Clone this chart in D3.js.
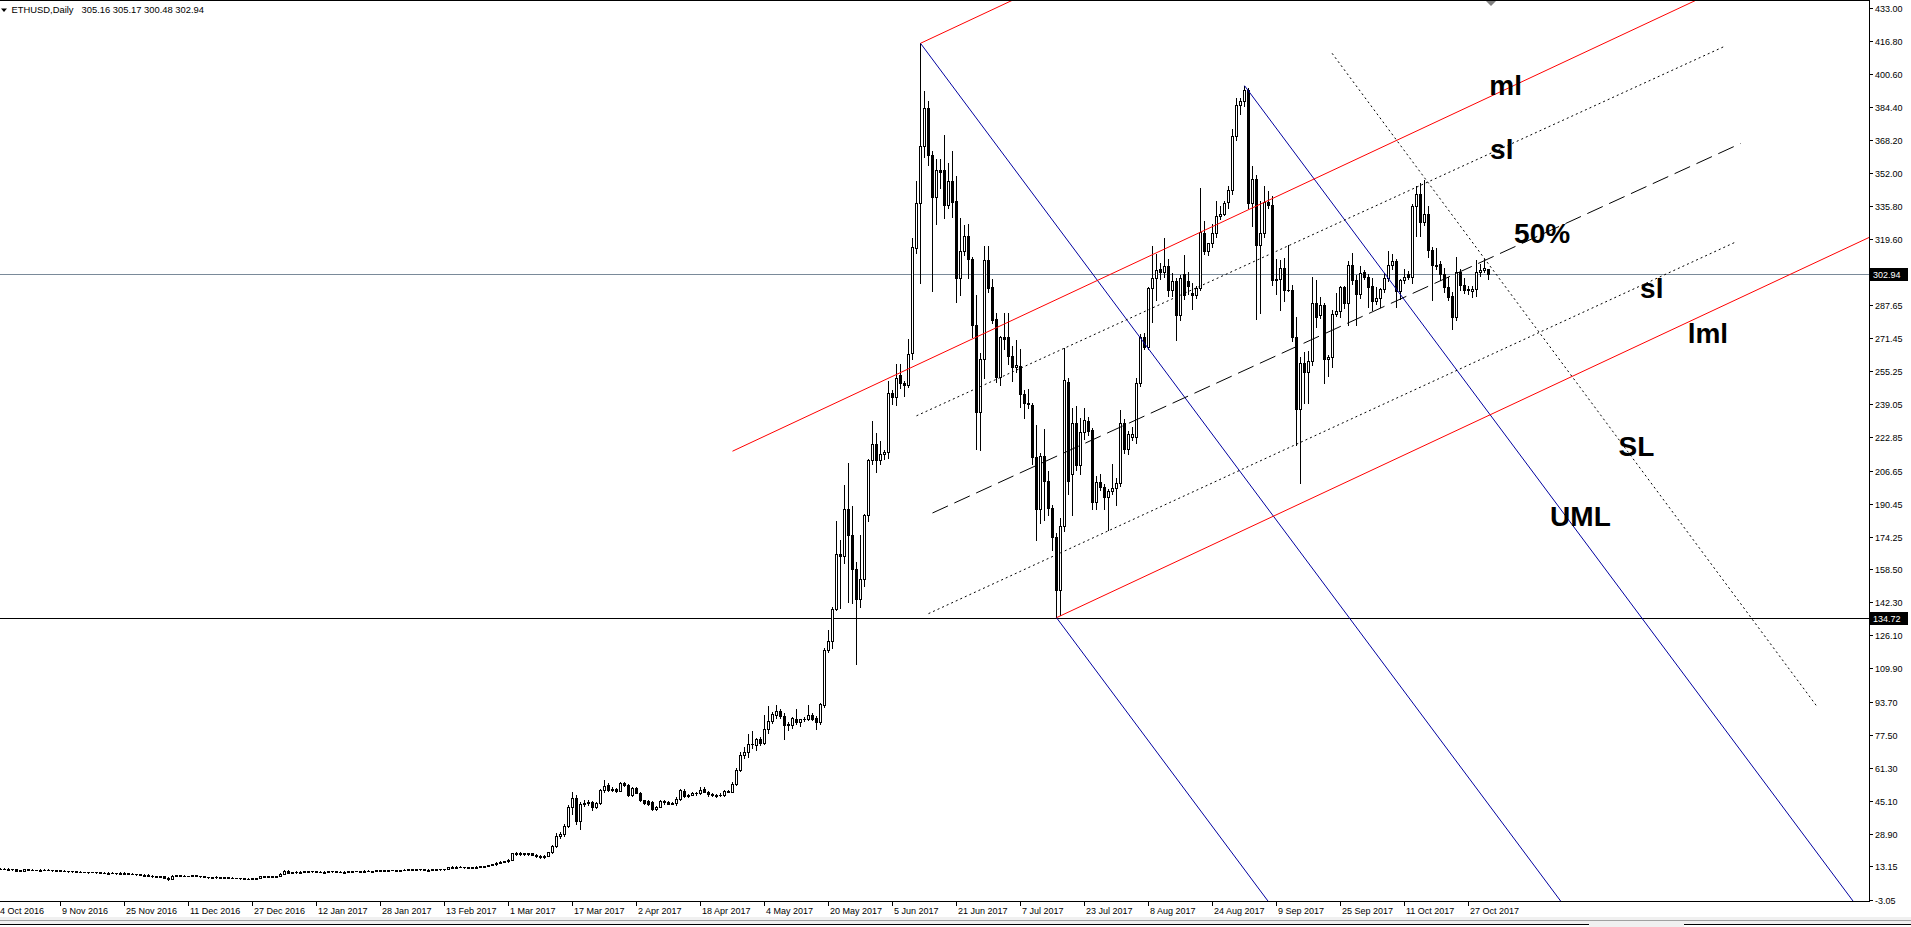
<!DOCTYPE html>
<html><head><meta charset="utf-8">
<script src="https://cdn.jsdelivr.net/npm/d3@7"></script>
<style>
html,body{margin:0;padding:0;background:#fff;overflow:hidden;}
svg{display:block;}
text{font-family:"Liberation Sans",Arial,sans-serif;}
</style></head><body>
<svg id="c" width="1911" height="927"></svg>
<script>
// ---------- DATA ----------
const symbol = "ETHUSD,Daily";
const dateLabels = ["4 Oct 2016","9 Nov 2016","25 Nov 2016","11 Dec 2016","27 Dec 2016","12 Jan 2017","28 Jan 2017","13 Feb 2017","1 Mar 2017","17 Mar 2017","2 Apr 2017","18 Apr 2017","4 May 2017","20 May 2017","5 Jun 2017","21 Jun 2017","7 Jul 2017","23 Jul 2017","8 Aug 2017","24 Aug 2017","9 Sep 2017","25 Sep 2017","11 Oct 2017","27 Oct 2017"];
const dateBars = [0,15,31,47,63,79,95,111,127,143,159,175,191,207,223,239,255,271,287,303,319,335,351,367];
const priceTicks = ["433.00","416.80","400.60","384.40","368.20","352.00","335.80","319.60","287.65","271.45","255.25","239.05","222.85","206.65","190.45","174.25","158.50","142.30","126.10","109.90","93.70","77.50","61.30","45.10","28.90","13.15","-3.05"];
const priceLevels = [302.94, 134.72];
// daily candles [open, high, low, close], one per bar
const candles = [
[12.1,12.4,11.8,12.0],[12.0,12.2,11.7,11.9],[11.9,12.3,11.8,12.0],[12.0,12.1,11.6,11.8],[11.8,11.9,10.8,11.0],[11.0,11.5,10.9,11.2],[11.1,11.9,11.0,11.8],[11.8,11.9,11.4,11.6],[11.6,11.7,11.2,11.4],[11.4,11.6,11.2,11.4],
[11.4,11.8,11.3,11.6],[11.6,11.8,11.4,11.6],[11.6,11.7,11.3,11.5],[11.5,11.6,11.1,11.3],[11.3,11.5,11.1,11.4],[11.4,11.5,11.0,11.1],[11.1,11.2,10.7,10.9],[10.9,11.1,10.6,10.8],[10.8,11.0,10.5,10.7],[10.7,10.8,10.3,10.5],
[10.5,10.7,10.3,10.5],[10.5,10.6,10.2,10.4],[10.4,10.5,10.1,10.3],[10.3,10.5,10.2,10.3],[10.3,10.4,10.0,10.2],[10.2,10.3,9.9,10.1],[10.1,10.2,9.8,10.0],[10.0,10.3,9.9,10.1],[10.1,10.2,9.7,9.9],[9.9,10.0,9.6,9.8],
[9.8,10.2,9.7,9.9],[9.9,10.3,9.8,10.0],[10.0,10.1,9.5,9.6],[9.6,9.7,9.3,9.4],[9.4,9.6,9.1,9.3],[9.3,9.4,8.9,9.0],[9.0,9.3,8.8,9.1],[9.1,9.2,8.5,8.6],[8.6,8.8,8.1,8.2],[8.2,8.3,7.8,7.9],
[7.9,8.4,7.8,8.3],[8.3,8.4,7.5,7.6],[7.6,7.8,6.6,7.1],[7.1,8.8,7.0,8.6],[8.6,8.9,8.4,8.7],[8.7,8.8,8.4,8.6],[8.6,8.7,8.3,8.5],[8.5,8.6,8.2,8.4],[8.4,8.8,8.3,8.7],[8.7,8.8,8.2,8.3],
[8.3,8.5,8.1,8.2],[8.2,8.3,7.8,7.9],[7.9,8.1,7.7,7.8],[7.8,8.0,7.6,7.9],[7.9,8.2,7.7,7.8],[7.8,7.9,7.5,7.7],[7.7,7.9,7.5,7.8],[7.8,8.0,7.5,7.6],[7.6,7.8,7.4,7.6],[7.6,7.7,7.3,7.4],
[7.4,7.6,7.2,7.4],[7.4,7.5,7.0,7.2],[7.2,7.4,7.0,7.1],[7.1,7.5,7.0,7.4],[7.4,7.6,7.2,7.5],[7.5,8.4,7.4,8.2],[8.2,8.4,8.0,8.1],[8.1,8.3,7.9,8.2],[8.2,8.4,8.0,8.1],[8.1,8.4,8.0,8.3],
[8.3,9.8,8.2,9.6],[9.6,11.3,9.5,10.9],[10.9,11.2,9.7,10.1],[10.1,10.6,9.9,10.4],[10.4,10.7,10.1,10.2],[10.2,10.8,10.1,10.6],[10.6,10.9,10.4,10.7],[10.7,11.0,10.5,10.8],[10.8,11.1,10.6,10.7],[10.7,10.9,10.4,10.6],
[10.6,10.8,10.3,10.5],[10.5,10.7,10.2,10.6],[10.6,10.9,10.4,10.8],[10.8,11.0,10.6,10.7],[10.7,10.9,10.5,10.6],[10.6,10.8,10.4,10.5],[10.5,10.7,10.3,10.6],[10.6,10.8,10.4,10.7],[10.7,11.0,10.6,10.9],[10.9,11.1,10.7,10.8],
[10.8,11.0,10.6,10.9],[10.9,11.2,10.8,11.0],[11.0,11.2,10.8,10.9],[10.9,11.1,10.7,11.0],[11.0,11.3,10.9,11.2],[11.2,11.4,11.0,11.1],[11.1,11.3,10.9,11.2],[11.2,11.5,11.1,11.4],[11.4,11.6,11.2,11.3],[11.3,11.5,11.1,11.4],
[11.4,11.6,11.2,11.5],[11.5,11.7,11.3,11.4],[11.4,11.8,11.3,11.7],[11.7,11.9,11.5,11.6],[11.6,12.0,11.5,11.9],[11.9,12.1,11.6,11.7],[11.7,11.9,11.4,11.5],[11.5,11.7,11.3,11.6],[11.6,11.8,11.4,11.7],[11.7,12.0,11.6,11.9],
[11.9,12.0,11.6,11.8],[11.8,12.0,11.6,11.8],[11.8,13.0,11.7,12.8],[12.8,13.1,12.6,12.9],[12.9,13.2,12.7,13.0],[13.0,13.1,12.6,12.8],[12.8,13.0,12.5,12.7],[12.7,12.9,12.5,12.8],[12.8,13.0,12.6,12.9],[12.9,13.1,12.7,13.0],
[13.0,13.3,12.8,13.1],[13.1,13.5,13.0,13.4],[13.4,13.8,13.3,13.7],[13.7,14.3,13.6,14.2],[14.2,15.2,14.0,15.0],[15.0,15.6,14.8,15.4],[15.4,16.0,15.1,15.8],[15.8,16.6,15.5,16.3],[16.3,19.9,16.1,19.6],[19.6,20.4,18.9,19.2],
[19.2,20.0,18.8,19.6],[19.6,19.9,18.7,19.0],[19.0,19.8,18.8,19.5],[19.5,19.7,18.6,18.9],[18.9,19.1,17.9,18.2],[18.2,18.5,17.2,17.6],[17.6,18.7,17.4,18.4],[18.4,20.4,18.2,20.1],[20.1,23.4,19.8,22.9],[22.9,29.3,22.5,28.2],
[28.2,29.9,27.2,28.9],[29.0,33.8,28.1,33.0],[33.0,43.0,32.5,42.1],[42.1,49.5,38.8,46.4],[46.6,48.0,33.9,35.5],[35.5,44.5,31.4,43.8],[43.8,45.4,42.6,44.2],[44.2,45.6,43.1,44.6],[44.6,45.2,40.5,42.2],[42.2,44.5,41.8,44.0],
[44.0,51.2,43.5,50.4],[50.4,55.4,49.7,52.6],[52.9,53.7,50.0,50.7],[50.7,51.8,50.0,51.2],[51.2,51.7,49.6,50.1],[50.1,54.3,49.8,53.7],[53.7,54.6,52.6,52.9],[52.9,53.3,47.4,47.9],[47.9,51.9,47.6,51.7],[51.7,52.0,48.8,49.1],
[49.1,49.6,45.0,45.4],[45.4,45.8,43.8,44.1],[45.1,45.6,43.2,43.6],[44.6,45.0,40.8,41.3],[41.3,42.8,40.5,42.4],[42.4,45.4,42.0,45.1],[45.1,45.6,43.8,44.6],[44.6,44.9,43.4,43.8],[43.8,44.5,43.5,44.1],[44.1,47.0,43.0,46.3],
[46.3,51.0,45.8,50.4],[50.1,51.2,47.0,47.6],[47.6,48.6,47.3,48.1],[48.1,49.4,47.8,49.0],[49.0,49.6,48.2,48.8],[48.8,51.8,48.5,50.4],[51.2,52.0,49.3,49.6],[49.6,50.1,47.5,48.4],[48.4,49.0,47.6,47.9],[47.9,48.5,47.3,48.1],
[48.1,48.8,47.5,47.8],[47.8,50.3,47.5,50.0],[50.0,50.5,49.4,49.7],[49.7,54.5,49.3,53.6],[53.6,61.0,53.0,60.3],[60.3,69.0,59.8,67.8],[67.8,71.5,66.0,68.9],[68.9,77.7,66.5,73.2],[73.2,79.3,71.0,72.8],[72.7,76.0,70.0,75.2],
[75.2,76.5,72.5,73.6],[73.6,87.1,72.8,80.2],[80.2,91.4,78.5,84.3],[84.3,88.5,83.0,87.6],[87.1,92.0,85.8,89.3],[89.3,90.1,85.5,86.8],[86.8,88.0,75.5,82.2],[82.2,83.5,80.0,82.7],[82.2,86.0,81.0,85.5],[85.1,90.1,82.5,83.5],
[83.5,85.3,82.0,85.1],[85.1,86.0,84.0,85.1],[85.1,92.0,84.5,87.1],[87.1,88.0,84.8,85.1],[85.5,86.5,80.5,83.5],[83.5,93.0,82.5,92.6],[91.8,120.0,91.0,119.1],[119.1,128.5,118.0,123.2],[123.2,139.8,119.9,139.2],[138.9,181.9,138.5,165.9],
[165.9,172.8,139.4,164.9],[164.9,199.6,161.6,187.7],[187.7,210.4,142.2,175.3],[175.3,189.4,141.7,158.3],[158.3,162.0,112.1,143.9],[143.9,175.0,140.0,153.8],[153.8,185.5,150.0,184.7],[184.7,212.5,181.9,211.7],[211.7,230.7,210.0,219.5],[219.5,225.0,205.9,211.7],
[211.7,221.3,210.0,214.5],[214.5,216.5,212.5,215.5],[215.5,250.6,213.0,244.6],[244.6,246.0,239.0,242.7],[242.7,258.9,238.7,251.8],[253.4,258.9,247.0,249.3],[249.3,250.5,243.0,248.3],[248.3,270.8,247.5,263.8],[263.9,320.3,261.0,315.8],[315.3,348.1,313.0,337.6],
[337.6,415.5,298.4,365.4],[365.4,392.0,360.0,384.1],[384.1,387.4,356.0,361.0],[361.0,363.0,294.3,340.6],[340.6,358.8,327.4,353.4],[353.4,358.8,345.0,352.8],[353.4,370.9,330.0,336.5],[336.5,357.2,335.0,348.1],[348.1,363.0,330.7,337.8],[338.5,350.5,288.8,300.9],
[300.9,329.9,292.6,314.2],[314.2,326.9,312.0,321.3],[321.3,327.4,300.9,310.0],[310.0,311.0,272.0,277.7],[277.7,292.6,217.0,235.2],[235.2,264.0,216.5,261.2],[261.2,316.3,252.1,309.7],[309.7,316.3,294.0,296.0],[296.4,300.1,279.0,280.2],[280.5,283.5,250.0,252.4],
[252.4,272.5,248.5,271.9],[271.9,283.5,266.0,271.0],[272.0,283.9,258.7,262.4],[262.4,267.3,250.5,257.4],[257.4,270.6,255.0,258.0],[257.9,266.0,237.5,244.2],[244.2,246.0,232.2,239.7],[239.7,246.3,237.2,239.2],[238.9,239.7,210.0,213.2],[213.2,228.9,172.7,187.9],
[187.9,215.0,181.0,213.7],[213.7,226.9,182.6,201.6],[201.6,206.6,185.0,188.4],[188.4,190.0,167.7,174.3],[174.3,176.0,134.72,148.2],[148.2,183.4,136.0,179.6],[179.6,266.7,177.0,250.8],[250.1,252.0,195.0,201.6],[204.9,237.2,185.1,229.8],[229.8,238.4,207.0,209.4],
[209.4,232.2,205.0,225.3],[225.3,237.2,222.0,231.4],[230.9,233.0,224.0,226.0],[226.5,227.3,188.0,191.2],[191.2,204.1,188.0,200.8],[200.8,204.9,197.0,198.8],[198.8,200.0,187.6,193.9],[193.9,197.5,177.6,196.7],[196.7,209.9,195.0,198.3],[198.3,203.0,189.6,200.5],
[200.5,236.0,199.0,229.8],[229.8,232.0,215.0,217.4],[217.4,226.0,214.9,224.3],[223.1,228.1,221.5,224.3],[223.1,252.0,220.3,249.6],[249.6,273.3,248.0,271.9],[271.9,273.9,266.0,267.0],[267.0,296.5,266.2,296.0],[296.0,316.6,279.4,300.9],[300.9,312.5,290.2,304.7],
[305.0,308.0,300.5,303.5],[303.5,320.3,301.5,306.7],[306.7,310.0,292.0,294.8],[294.8,303.4,292.1,299.3],[299.3,301.0,270.6,282.7],[282.7,302.0,280.2,300.9],[302.6,312.0,290.5,292.6],[299.5,303.5,292.8,296.8],[293.5,298.1,285.5,292.6],[292.6,297.0,291.0,296.0],
[296.0,344.8,294.8,323.2],[323.0,328.4,312.6,313.8],[313.8,318.0,312.0,317.8],[317.8,327.3,316.0,322.7],[322.7,338.2,321.0,331.2],[331.2,335.8,329.5,332.2],[332.2,338.2,331.5,337.4],[337.7,345.5,335.0,343.6],[343.6,373.6,342.0,370.0],[370.0,388.8,368.0,385.5],
[385.5,388.8,381.0,387.2],[387.2,394.8,385.0,392.9],[392.9,393.7,335.0,337.4],[337.4,355.4,326.0,349.2],[349.2,351.3,280.6,317.0],[317.0,338.2,283.9,322.7],[322.7,345.6,321.0,337.7],[337.7,343.1,335.0,336.6],[336.6,340.7,297.4,299.6],[299.6,310.0,293.0,300.2],
[300.2,309.4,285.2,305.6],[305.6,310.5,289.3,295.0],[295.0,317.0,294.6,294.7],[295.0,297.4,270.0,271.8],[271.8,281.9,219.1,236.6],[236.6,262.0,200.7,259.4],[259.4,264.8,239.5,255.0],[255.0,265.3,239.5,260.4],[260.4,301.2,258.0,288.5],[288.5,299.9,277.0,281.6],
[282.8,291.7,281.0,287.6],[287.6,288.5,249.6,261.0],[261.0,263.0,252.9,262.0],[262.0,285.2,257.5,283.2],[283.2,293.4,282.0,284.4],[284.4,297.0,281.6,296.3],[296.3,297.0,286.0,288.5],[288.5,308.9,277.9,307.2],[307.2,312.9,298.0,299.6],[299.6,302.3,277.9,293.0],
[293.0,306.4,291.0,303.1],[303.5,304.8,300.5,301.5],[301.5,302.5,286.8,296.6],[296.9,300.7,285.2,289.3],[289.3,296.6,288.0,290.9],[290.9,296.0,286.5,295.3],[295.3,303.0,294.0,300.7],[300.7,313.8,299.5,307.2],[307.2,312.6,305.0,309.3],[309.3,310.0,286.5,294.2],
[294.2,300.5,290.4,299.9],[299.9,305.1,298.5,301.5],[302.8,304.0,300.5,301.5],[301.5,337.0,298.3,336.1],[336.1,345.6,321.1,342.0],[342.0,347.2,321.1,328.0],[328.0,348.8,326.5,332.1],[332.1,336.1,311.0,314.6],[314.6,316.0,290.1,307.2],[307.2,315.4,305.0,306.7],
[307.7,309.0,299.6,302.8],[302.8,305.6,294.0,296.6],[296.6,301.5,290.0,291.7],[292.0,294.0,275.7,281.9],[281.9,311.0,280.0,303.9],[303.9,305.1,295.0,297.4],[297.4,300.7,293.5,294.7],[294.7,296.9,293.0,295.3],[294.2,296.9,291.7,295.3],[295.3,309.4,292.1,303.5],
[303.5,307.7,301.8,304.8],[304.8,310.0,303.5,305.6],[305.16,305.17,300.48,302.94]
];
// drawn objects, endpoints as [bar index, price]
const redLines = [ [[230,415.5],[262,444.8]], [[183,216.1],[440,451.3]], [[264,134.72],[470,323.2]] ];
const blueLines = [ [[230,415.5],[400,-29.9]], [[311,394.8],[470,-21.8]], [[264,134.72],[320,-12.0]] ];
const dottedLines = [ [[229,233.4],[431,414.0]], [[232,136.7],[433.5,318.1]], [[332.9,410.6],[453.9,91.9]] ];
const dashedLines = [ [[233,185.9],[435,366.5]] ];
const labelTexts = ["ml","sl","50%","sl","lml","SL","UML"];
const labelBars  = [372.2,372.4,378.4,409.9,421.8,404.5,387.4];
const labelPrices= [390.3,359.1,318.0,291.2,269.1,213.7,179.7];

// ---------- DRAW ----------
const svg = d3.select("#c");
const plotR = 1869, plotB = 901;
const x = d3.scaleLinear().domain([0,372]).range([0.5,1488.5]);
const y = d3.scaleLinear().domain([-3.05,433]).range([899.5,7.5]);

svg.append("defs").append("clipPath").attr("id","clip")
  .append("rect").attr("x",0).attr("y",1).attr("width",plotR).attr("height",plotB-1);

// bottom strip
svg.append("rect").attr("x",0).attr("y",917).attr("width",1911).attr("height",10).attr("fill","#f0f0f0");
svg.append("line").attr("x1",0).attr("x2",1911).attr("y1",920.5).attr("y2",920.5).attr("stroke","#a0a0a0");
svg.append("line").attr("x1",0).attr("x2",1589).attr("y1",924.5).attr("y2",924.5).attr("stroke","#000");
svg.append("line").attr("x1",1684).attr("x2",1911).attr("y1",924.5).attr("y2",924.5).attr("stroke","#000");
svg.append("rect").attr("x",0).attr("y",925).attr("width",1589).attr("height",2).attr("fill","#fff");
svg.append("rect").attr("x",1684).attr("y",925).attr("width",227).attr("height",2).attr("fill","#fff");

const plot = svg.append("g").attr("clip-path","url(#clip)");

// horizontal price levels
plot.selectAll("line.level").data(priceLevels).join("line")
  .attr("x1",0).attr("x2",plotR)
  .attr("y1",d=>Math.round(y(d))+0.5).attr("y2",d=>Math.round(y(d))+0.5)
  .attr("stroke",(d,i)=>i===0?"#7a8a99":"#000").attr("stroke-width",1);

// candles
const cg = plot.append("g");
cg.selectAll("line.wick").data(candles).join("line")
  .attr("x1",(d,i)=>x(i)).attr("x2",(d,i)=>x(i))
  .attr("y1",d=>Math.round(y(Math.max(d[1],d[0],d[3]))))
  .attr("y2",d=>Math.round(y(Math.min(d[2],d[0],d[3])))+1)
  .attr("stroke","#000").attr("stroke-width",1);
function bodyTop(d){return Math.round(y(Math.max(d[0],d[3])));}
function bodyBot(d){return Math.round(y(Math.min(d[0],d[3])));}
cg.selectAll("rect.bull").data(candles.map((d,i)=>({d,i})).filter(o=>o.d[3]>o.d[0])).join("rect")
  .attr("x",o=>x(o.i)-1).attr("width",2)
  .attr("y",o=>bodyTop(o.d)+0.5).attr("height",o=>Math.max(bodyBot(o.d)-bodyTop(o.d),1))
  .attr("fill","#fff").attr("stroke","#000").attr("stroke-width",1);
cg.selectAll("rect.bear").data(candles.map((d,i)=>({d,i})).filter(o=>o.d[3]<=o.d[0])).join("rect")
  .attr("x",o=>x(o.i)-1.5).attr("width",3)
  .attr("y",o=>bodyTop(o.d)).attr("height",o=>Math.max(bodyBot(o.d)-bodyTop(o.d)+1,1))
  .attr("fill","#000");

// objects
const lineGen = d3.line().x(p=>x(p[0])).y(p=>y(p[1]));
plot.selectAll("path.blue").data(blueLines).join("path").attr("d",lineGen)
  .attr("fill","none").attr("stroke","#0000a0").attr("stroke-width",1);
plot.selectAll("path.dot").data(dottedLines).join("path").attr("d",lineGen)
  .attr("fill","none").attr("stroke","#000").attr("stroke-width",1).attr("stroke-dasharray","2,3");
plot.selectAll("path.dash").data(dashedLines).join("path").attr("d",lineGen)
  .attr("fill","none").attr("stroke","#000").attr("stroke-width",1).attr("stroke-dasharray","17,7");
plot.selectAll("path.red").data(redLines).join("path").attr("d",lineGen)
  .attr("fill","none").attr("stroke","#ff0000").attr("stroke-width",1);

// labels
plot.selectAll("text.lbl").data(labelTexts).join("text")
  .attr("x",(d,i)=>x(labelBars[i])).attr("y",(d,i)=>y(labelPrices[i]))
  .attr("font-size",28).attr("font-weight","bold").attr("fill","#000").text(d=>d);

// frame
svg.append("line").attr("x1",0).attr("x2",plotR+1).attr("y1",0.5).attr("y2",0.5).attr("stroke","#000");
svg.append("line").attr("x1",plotR+0.5).attr("x2",plotR+0.5).attr("y1",0).attr("y2",plotB+1).attr("stroke","#000");
svg.append("line").attr("x1",0).attr("x2",plotR+1).attr("y1",plotB+0.5).attr("y2",plotB+0.5).attr("stroke","#000");

// chart-shift marker
svg.append("path").attr("d","M1486,1L1496,1L1491,6Z").attr("fill","#7f7f7f");

// y axis
const ya = svg.append("g");
ya.selectAll("line").data(priceTicks).join("line")
  .attr("x1",plotR+1).attr("x2",plotR+4)
  .attr("y1",d=>Math.round(y(+d))+0.5).attr("y2",d=>Math.round(y(+d))+0.5).attr("stroke","#000");
ya.selectAll("text").data(priceTicks).join("text")
  .attr("x",plotR+6).attr("y",d=>Math.round(y(+d))+3.5)
  .attr("font-size",9).attr("fill","#000").text(d=>d);

// price level boxes
const pb = svg.append("g");
pb.selectAll("rect").data(priceLevels).join("rect")
  .attr("x",plotR+1).attr("y",d=>Math.round(y(d))-6).attr("width",38).attr("height",13).attr("fill","#000");
pb.selectAll("text").data(priceLevels).join("text")
  .attr("x",plotR+4).attr("y",d=>Math.round(y(d))+4)
  .attr("font-size",9).attr("fill","#fff").text(d=>d.toFixed(2));

// x axis
const xa = svg.append("g");
xa.selectAll("line").data(dateBars.slice(1)).join("line")
  .attr("x1",d=>x(d)).attr("x2",d=>x(d)).attr("y1",plotB+1).attr("y2",plotB+5).attr("stroke","#000");
xa.selectAll("text").data(dateLabels).join("text")
  .attr("x",(d,i)=>i===0?0:x(dateBars[i])+1.5).attr("y",913.5)
  .attr("font-size",9).attr("fill","#000").text(d=>d);

// title
svg.append("path").attr("d","M1,8.5L7,8.5L4,12Z").attr("fill","#000");
const last = candles[candles.length-1];
svg.append("text").attr("x",11.5).attr("y",12.5).attr("font-size",9.4).attr("fill","#000").text(symbol);
svg.append("text").attr("x",81.5).attr("y",12.5).attr("font-size",9.4).attr("fill","#000")
  .text(last.map(v=>v.toFixed(2)).join(" "));
</script>
</body></html>
